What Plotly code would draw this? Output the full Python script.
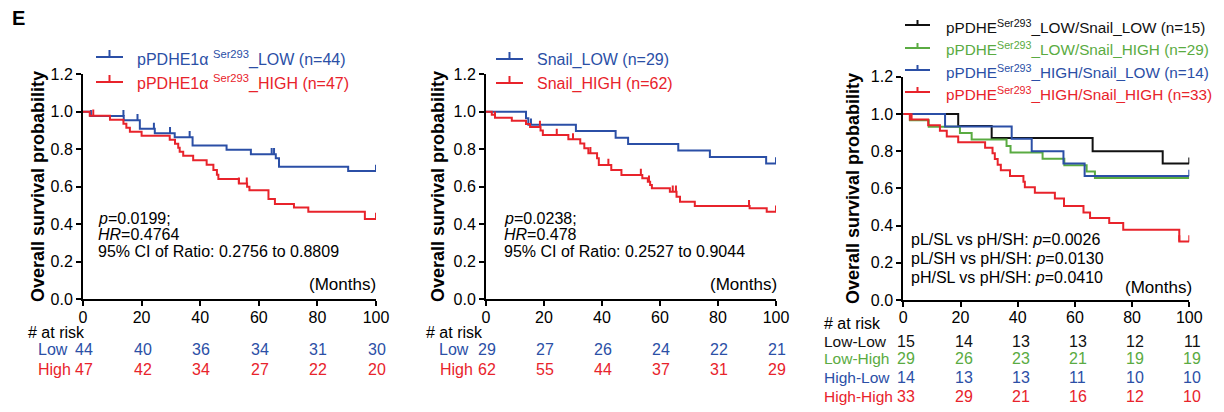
import plotly.graph_objects as go

W, H = 1224, 412          # browser window
OX, OY = 8, 8             # page body margin
FW, FH = W - OX, H - OY   # figure size
BLUE = "#2b4fa6"
RED = "#e8232b"
GREEN = "#5aab42"
BLACK = "#111111"
FONT = "Liberation Sans, Arial, sans-serif"

# ---------------- data ----------------
# Panel 1: pPDHE1α Ser293
p1_low_t = [0, 2.5, 13.9, 19.4, 24.5, 31.3, 37.4, 49.0, 57.3, 65.8, 66.9, 90.5, 100]
p1_low_s = [1.0, 0.977, 0.955, 0.909, 0.886, 0.864, 0.820, 0.797, 0.774, 0.752, 0.707, 0.684, 0.684]
p1_low_cens = [2.7, 13.8, 18.6, 24.2, 29.7, 36.4, 64.4, 65.2, 100]
p1_high_t = [0, 2.3, 9.2, 13.8, 14.8, 16.0, 20.0, 29.6, 31.4, 32.5, 33.0, 34.2, 37.6, 42.2,
             44.5, 45.7, 46.2, 53.2, 56.0, 56.8, 63.3, 65.5, 72.0, 76.9, 96.2, 100]
p1_high_s = [1.0, 0.979, 0.957, 0.936, 0.915, 0.894, 0.872, 0.851, 0.830, 0.808, 0.787, 0.766,
             0.742, 0.718, 0.690, 0.664, 0.641, 0.617, 0.600, 0.582, 0.535, 0.508, 0.490, 0.467,
             0.428, 0.428]
p1_high_cens = [3.5, 53.2, 55.9, 100]

# Panel 2: Snail
p2_low_t = [0, 13.8, 14.6, 31.0, 44.7, 49.0, 66.3, 77.2, 96.6, 100]
p2_low_s = [1.0, 0.966, 0.931, 0.897, 0.862, 0.828, 0.793, 0.759, 0.724, 0.724]
p2_low_cens = [15.5, 100]
p2_high_t = [0, 2.0, 3.1, 8.9, 13.8, 15.2, 18.8, 19.6, 28.4, 32.5, 33.9, 35.3, 38.3, 38.9, 43.2,
             46.7, 53.9, 55.8, 56.6, 57.2, 63.4, 65.7, 66.9, 72.0, 90.9, 96.8, 100]
p2_high_s = [1.0, 0.984, 0.968, 0.952, 0.935, 0.919, 0.900, 0.876, 0.853, 0.831, 0.805, 0.779,
             0.752, 0.716, 0.689, 0.663, 0.645, 0.627, 0.610, 0.592, 0.574, 0.547, 0.520, 0.497,
             0.485, 0.467, 0.467]
p2_high_cens = [3.1, 18.6, 24.4, 30.0, 36.0, 42.2, 53.4, 56.2, 64.4, 65.5, 90.7, 100]

# Panel 3: combined groups
p3_ll_t = [0, 19.2, 30.9, 66.2, 90.7, 100]
p3_ll_s = [1.0, 0.935, 0.870, 0.800, 0.733, 0.733]
p3_ll_cens = [100]
p3_lh_t = [0, 2.3, 8.9, 19.8, 23.9, 36.1, 37.5, 48.7, 56.3, 64.1, 67.0, 100]
p3_lh_s = [1.0, 0.966, 0.931, 0.897, 0.862, 0.828, 0.793, 0.759, 0.724, 0.690, 0.655, 0.655]
p3_lh_cens = []
p3_hl_t = [0, 14.6, 37.9, 44.9, 56.0, 63.4, 100]
p3_hl_s = [1.0, 0.933, 0.867, 0.800, 0.733, 0.667, 0.667]
p3_hl_cens = [100]
p3_hh_t = [0, 2.3, 8.7, 12.8, 15.2, 19.2, 28.6, 31.2, 32.0, 33.0, 34.1, 37.3, 42.0, 42.5, 46.0,
           53.0, 56.2, 63.0, 65.3, 72.0, 76.9, 96.5, 100]
p3_hh_s = [1.0, 0.970, 0.939, 0.909, 0.879, 0.848, 0.818, 0.788, 0.758, 0.727, 0.697, 0.667,
           0.636, 0.606, 0.576, 0.545, 0.505, 0.470, 0.441, 0.414, 0.378, 0.315, 0.315]
p3_hh_cens = [2.9, 96.5, 100]

# at-risk tables
risk_times = [0, 20, 40, 60, 80, 100]
p1_risk_low = [44, 40, 36, 34, 31, 30]
p1_risk_high = [47, 42, 34, 27, 22, 20]
p2_risk_low = [29, 27, 26, 24, 22, 21]
p2_risk_high = [62, 55, 44, 37, 31, 29]
p3_risk_ll = [15, 14, 13, 13, 12, 11]
p3_risk_lh = [29, 26, 23, 21, 19, 19]
p3_risk_hl = [14, 13, 13, 11, 10, 10]
p3_risk_hh = [33, 29, 21, 16, 12, 10]

x_ticks = [0, 20, 40, 60, 80, 100]
y_ticks = [0.0, 0.2, 0.4, 0.6, 0.8, 1.0, 1.2]

# ---------------- helpers (page pixels -> paper fraction) ----------------
def fx(p):
    return (p - OX) / FW

def fy(p):
    return 1 - (p - OY) / FH

def surv_at(t_list, s_list, t):
    val = s_list[0]
    for ti, si in zip(t_list, s_list):
        if ti <= t:
            val = si
    return val

TICK_H = 0.033

fig = go.Figure()

def add_curve(t_list, s_list, cens, color, ax):
    xa = "x" if ax == 1 else f"x{ax}"
    ya = "y" if ax == 1 else f"y{ax}"
    fig.add_trace(go.Scatter(x=t_list, y=s_list, mode="lines", line=dict(color=color, width=2, shape="hv"),
                             xaxis=xa, yaxis=ya, showlegend=False, hoverinfo="skip"))
    if cens:
        xs, ys = [], []
        for c in cens:
            s = surv_at(t_list, s_list, c)
            xs += [c, c, None]
            ys += [s, s + TICK_H, None]
        fig.add_trace(go.Scatter(x=xs, y=ys, mode="lines", line=dict(color=color, width=2),
                                 xaxis=xa, yaxis=ya, showlegend=False, hoverinfo="skip"))

add_curve(p1_low_t, p1_low_s, p1_low_cens, BLUE, 1)
add_curve(p1_high_t, p1_high_s, p1_high_cens, RED, 1)
add_curve(p2_low_t, p2_low_s, p2_low_cens, BLUE, 2)
add_curve(p2_high_t, p2_high_s, p2_high_cens, RED, 2)
add_curve(p3_ll_t, p3_ll_s, p3_ll_cens, BLACK, 3)
add_curve(p3_lh_t, p3_lh_s, p3_lh_cens, GREEN, 3)
add_curve(p3_hl_t, p3_hl_s, p3_hl_cens, BLUE, 3)
add_curve(p3_hh_t, p3_hh_s, p3_hh_cens, RED, 3)

# ---------------- axes ----------------
panels = [
    dict(x0=83, x1=376, ytop=74.3, ybot=299.3),
    dict(x0=486, x1=776, ytop=74.3, ybot=299.3),
    dict(x0=903.3, x1=1189.3, ytop=76.7, ybot=300),
]

axis_common = dict(showline=True, linewidth=2, linecolor="black", ticks="outside", ticklen=5,
                   tickwidth=2, tickcolor="black", showgrid=False, zeroline=False, automargin=False,
                   tickfont=dict(family=FONT, size=16, color="black"))
layout_axes = {}
for i, p in enumerate(panels, start=1):
    sx = "xaxis" if i == 1 else f"xaxis{i}"
    sy = "yaxis" if i == 1 else f"yaxis{i}"
    ya = "y" if i == 1 else f"y{i}"
    xa = "x" if i == 1 else f"x{i}"
    layout_axes[sx] = dict(axis_common, domain=[fx(p["x0"]), fx(p["x1"])], range=[0, 100],
                           tickvals=x_ticks, anchor=ya, ticklabelstandoff=-3)
    layout_axes[sy] = dict(axis_common, domain=[fy(p["ybot"]), fy(p["ytop"])], range=[0, 1.2],
                           tickvals=y_ticks, tickformat=".1f", anchor=xa)

fig.update_layout(**layout_axes)

ann = []
shapes = []

def text(x, y, s, color="black", size=16, xanchor="left", bold=False, angle=0):
    if bold:
        s = f"<b>{s}</b>"
    ann.append(dict(x=fx(x), y=fy(y), xref="paper", yref="paper", text=s, showarrow=False,
                    xanchor=xanchor, yanchor="middle", textangle=angle,
                    font=dict(family=FONT, size=size, color=color)))

def legend_item(lx0, lx1, ly, tx, ty, label, color, tick=7, size=16):
    shapes.append(dict(type="line", xref="paper", yref="paper", x0=fx(lx0), x1=fx(lx1),
                       y0=fy(ly), y1=fy(ly), line=dict(color=color, width=2)))
    mx = (lx0 + lx1) / 2
    shapes.append(dict(type="line", xref="paper", yref="paper", x0=fx(mx), x1=fx(mx),
                       y0=fy(ly), y1=fy(ly - tick), line=dict(color=color, width=2)))
    text(tx, ty, label, color=color, size=size)

# panel label
text(10, 18, "E", size=20, bold=True)

# y-axis titles
text(38, 187, "Overall survival probability", size=18, bold=True, xanchor="center", angle=-90)
text(438, 187, "Overall survival probability", size=18, bold=True, xanchor="center", angle=-90)
text(853, 189, "Overall survival probability", size=18, bold=True, xanchor="center", angle=-90)

# legends
legend_item(96, 123, 57, 135, 58, "pPDHE1α <sup>Ser293</sup>_LOW (n=44)", BLUE)
legend_item(96, 123, 82, 135, 83, "pPDHE1α <sup>Ser293</sup>_HIGH (n=47)", RED)
legend_item(496, 523, 59, 535, 60, "Snail_LOW (n=29)", BLUE)
legend_item(496, 523, 83, 535, 84, "Snail_HIGH (n=62)", RED)
legend_item(905, 930, 25, 944, 26, "pPDHE<sup>Ser293</sup>_LOW/Snail_LOW (n=15)", BLACK, tick=5, size=15.3)
legend_item(905, 930, 48, 944, 49, "pPDHE<sup>Ser293</sup>_LOW/Snail_HIGH (n=29)", GREEN, tick=5, size=15.3)
legend_item(905, 930, 70, 944, 71, "pPDHE<sup>Ser293</sup>_HIGH/Snail_LOW (n=14)", BLUE, tick=5, size=15.3)
legend_item(905, 930, 92, 944, 94, "pPDHE<sup>Ser293</sup>_HIGH/Snail_HIGH (n=33)", RED, tick=5, size=15.3)

# statistics
text(96, 218, "<i>p</i>=0.0199;")
text(96, 234.5, "<i>HR</i>=0.4764")
text(96, 251, "95% CI of Ratio: 0.2756 to 0.8809")
text(502, 218, "<i>p</i>=0.0238;")
text(502, 234.5, "<i>HR</i>=0.478")
text(502, 251, "95% CI of Ratio: 0.2527 to 0.9044")
text(909, 240, "pL/SL vs pH/SH: <i>p</i>=0.0026")
text(909, 258.5, "pL/SH vs pH/SH: <i>p</i>=0.0130")
text(909, 277, "pH/SL vs pH/SH: <i>p</i>=0.0410")

text(378, 284, "(Months)", size=17, xanchor="right")
text(779, 284, "(Months)", size=17, xanchor="right")
text(1194, 287, "(Months)", size=17, xanchor="right")

# at-risk tables
def risk_row(ax, counts, y, color, xshift=0):
    xa = "x" if ax == 1 else f"x{ax}"
    for t, c in zip(risk_times, counts):
        ann.append(dict(x=t, y=fy(y), xref=xa, yref="paper", text=str(c), showarrow=False,
                        xanchor="center", yanchor="middle", xshift=xshift,
                        font=dict(family=FONT, size=16, color=color)))

text(26, 332, "# at risk")
text(53, 349, "Low", color=BLUE, xanchor="center")
text(54, 369, "High", color=RED, xanchor="center")
risk_row(1, p1_risk_low, 349, BLUE, 1)
risk_row(1, p1_risk_high, 369, RED, 1)

text(424, 332, "# at risk")
text(454, 349, "Low", color=BLUE, xanchor="center")
text(456, 369, "High", color=RED, xanchor="center")
risk_row(2, p2_risk_low, 349, BLUE, 1)
risk_row(2, p2_risk_high, 369, RED, 1)

text(822, 323, "# at risk")
text(822, 341, "Low-Low", color=BLACK, size=15.5)
text(822, 358.5, "Low-High", color=GREEN, size=15.5)
text(822, 377, "High-Low", color=BLUE, size=15.5)
text(822, 396, "High-High", color=RED, size=15.5)
risk_row(3, p3_risk_ll, 341, BLACK, 3)
risk_row(3, p3_risk_lh, 358.5, GREEN, 3)
risk_row(3, p3_risk_hl, 377, BLUE, 3)
risk_row(3, p3_risk_hh, 396, RED, 3)

fig.update_layout(width=FW, height=FH, margin=dict(l=0, r=0, t=0, b=0, pad=0, autoexpand=False),
                  paper_bgcolor="white", plot_bgcolor="white", showlegend=False,
                  annotations=ann, shapes=shapes, font=dict(family=FONT, size=16))

fig.write_html("out.html")
